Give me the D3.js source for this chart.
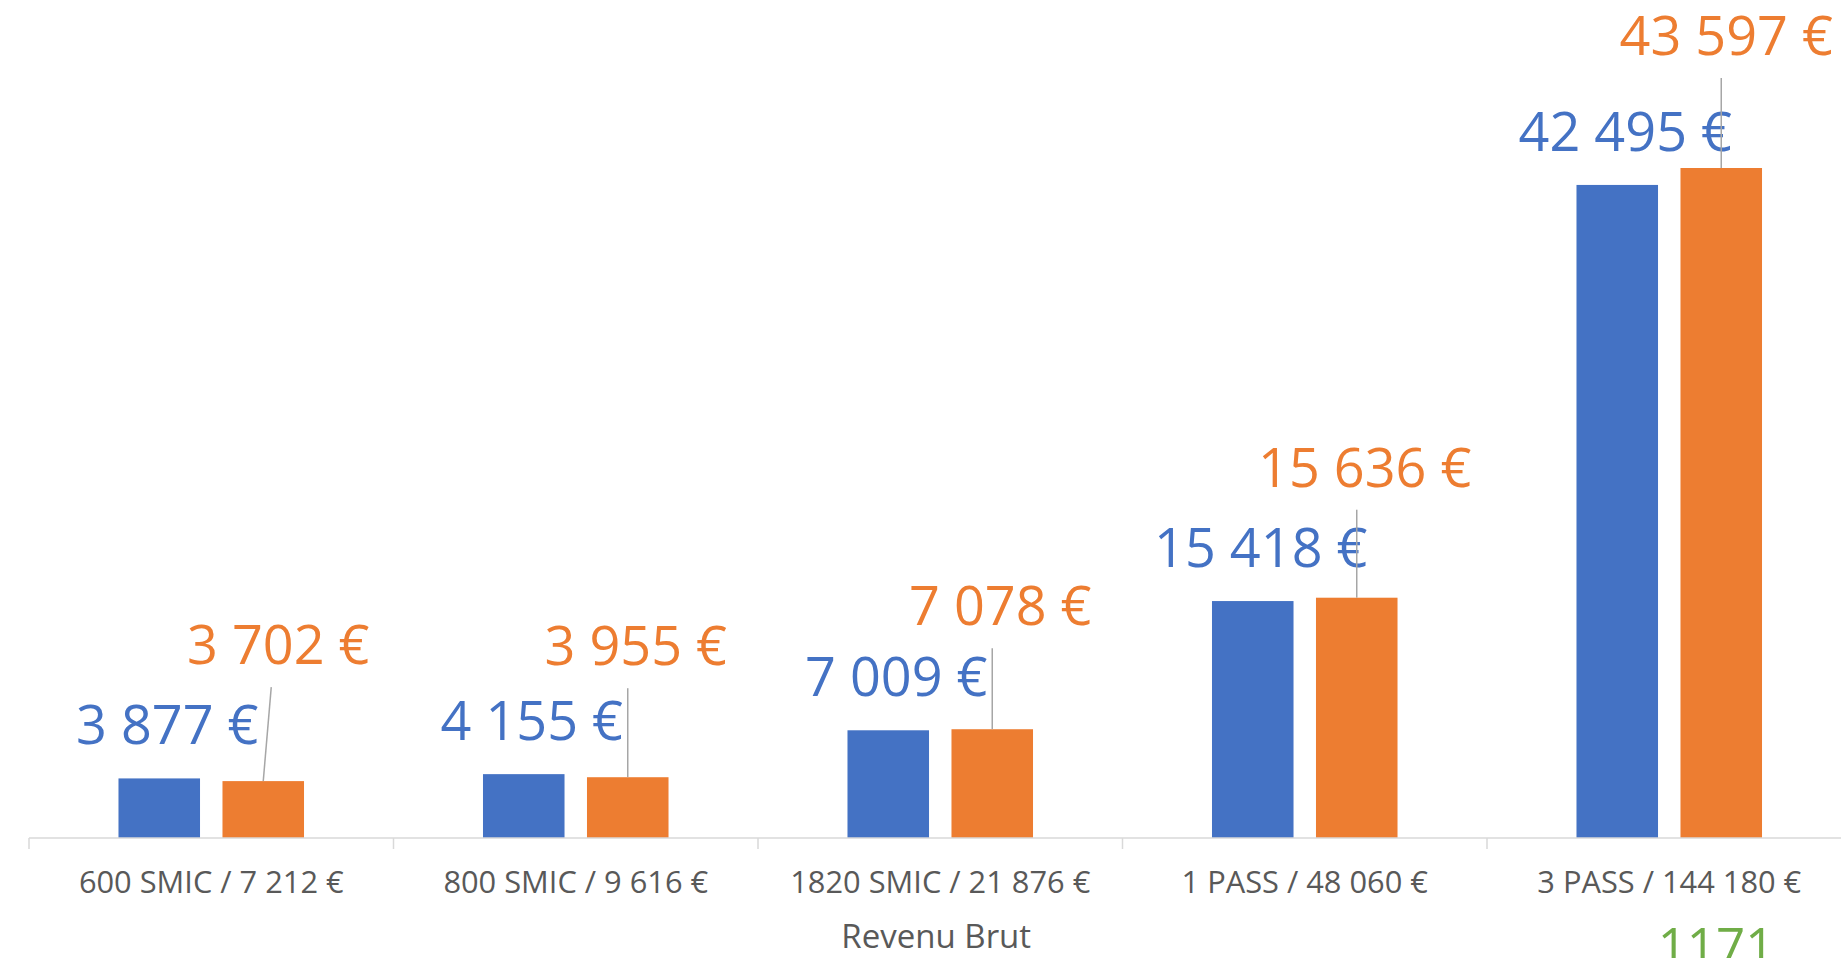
<!DOCTYPE html>
<html>
<head>
<meta charset="utf-8">
<script src="https://cdn.jsdelivr.net/npm/d3@7"></script>
<style>
  html, body { margin: 0; padding: 0; background: #ffffff; overflow: hidden; }
  svg { display: block; }
</style>
</head>
<body>
<svg id="chart" width="1841" height="958"></svg>
<script>
// ---- Data ----
const categories = ["600 SMIC / 7 212 €", "800 SMIC / 9 616 €", "1820 SMIC / 21 876 €", "1 PASS / 48 060 €", "3 PASS / 144 180 €"];
const seriesNames = ["Série 1", "Série 2"];
const seriesBlue = [3877, 4155, 7009, 15418, 42495];
const seriesOrange = [3702, 3955, 7078, 15636, 43597];
const axisTitle = "Revenu Brut";
const strayText = "1171";

// ---- Layout / style (not data) ----
const W = 1841, H = 958;
const plotLeft = 29, catStep = 364.5;
const axisY = 838, yTop = 69.6;
const colors = ["#4472c4", "#ed7d31"];
const orangeLabelDx = [15, 8, 8, 8, 5];
const orangeLabelLift = [117, 112, 104, 111, 113];

const svg = d3.select("#chart");

const x0 = d3.scaleBand()
  .domain(categories)
  .range([plotLeft, plotLeft + catStep * categories.length])
  .paddingInner(0.491)
  .paddingOuter(0.2455);

const x1 = d3.scaleBand()
  .domain(seriesNames)
  .range([0, x0.bandwidth()])
  .paddingInner(0.216)
  .paddingOuter(0);

const y = d3.scaleLinear().domain([0, 50000]).range([axisY, yTop]);

const locale = d3.formatLocale({ decimal: ",", thousands: " ", grouping: [3], currency: ["", " €"] });
const fmt = locale.format("$,.0f");

const rows = categories.map((c, i) => ({ cat: c, i, vals: [seriesBlue[i], seriesOrange[i]] }));

// ---- Bars ----
const g = svg.append("g");
rows.forEach(r => {
  r.vals.forEach((v, s) => {
    g.append("rect")
      .attr("x", x0(r.cat) + x1(seriesNames[s]))
      .attr("y", y(v))
      .attr("width", x1.bandwidth())
      .attr("height", y(0) - y(v))
      .attr("fill", colors[s]);
  });
});

// ---- Axis ----
const xAxis = d3.axisBottom(x0).tickSize(0).tickPadding(0);
const axG = svg.append("g").attr("transform", `translate(0,${axisY})`).call(xAxis);
axG.select(".domain").remove();
axG.selectAll(".tick text")
  .attr("y", 55)
  .attr("dy", 0)
  .attr("fill", "#595959")
  .style("font-family", "'Open Sans', sans-serif")
  .style("font-size", "30.8px");

svg.append("line")
  .attr("x1", plotLeft).attr("x2", W + 20)
  .attr("y1", axisY).attr("y2", axisY)
  .attr("stroke", "#d9d9d9").attr("stroke-width", 1.5);

const bounds = d3.range(categories.length + 1).map(k => plotLeft + k * x0.step());
svg.selectAll(".bound").data(bounds).enter().append("line")
  .attr("x1", d => d).attr("x2", d => d)
  .attr("y1", axisY).attr("y2", axisY + 11)
  .attr("stroke", "#d9d9d9").attr("stroke-width", 1.5);

// ---- Axis title ----
svg.append("text")
  .attr("x", plotLeft + catStep * categories.length / 2 - 4)
  .attr("y", 948)
  .attr("text-anchor", "middle")
  .attr("fill", "#595959")
  .style("font-family", "'Open Sans', sans-serif")
  .style("font-size", "33px")
  .text(axisTitle);

// ---- Data labels ----
const labelFont = "'Open Sans', sans-serif";
rows.forEach(r => {
  // blue
  const bx = x0(r.cat) + x1(seriesNames[0]) + x1.bandwidth() / 2;
  svg.append("text")
    .attr("x", bx + 8)
    .attr("y", y(r.vals[0]) - 34)
    .attr("text-anchor", "middle")
    .attr("fill", colors[0])
    .style("font-family", labelFont)
    .style("font-size", "54px")
    .text(fmt(r.vals[0]));

  // orange with leader
  const ox = x0(r.cat) + x1(seriesNames[1]) + x1.bandwidth() / 2;
  const baseY = y(r.vals[1]) - orangeLabelLift[r.i];
  const dx = orangeLabelDx[r.i];
  svg.append("line")
    .attr("x1", ox).attr("y1", y(r.vals[1]))
    .attr("x2", ox + (r.i === 0 ? 8 : 0)).attr("y2", baseY + 23)
    .attr("stroke", "#a6a6a6").attr("stroke-width", 1.5);
  svg.append("text")
    .attr("x", ox + dx)
    .attr("y", baseY)
    .attr("text-anchor", "middle")
    .attr("fill", colors[1])
    .style("font-family", labelFont)
    .style("font-size", "54px")
    .text(fmt(r.vals[1]));
});

// ---- Stray text at bottom ----
svg.append("text")
  .attr("x", 1716)
  .attr("y", 965)
  .attr("text-anchor", "middle")
  .attr("fill", "#70ad47")
  .style("font-family", "'Open Sans', sans-serif")
  .style("font-size", "51px")
  .text(strayText);
</script>
</body>
</html>
